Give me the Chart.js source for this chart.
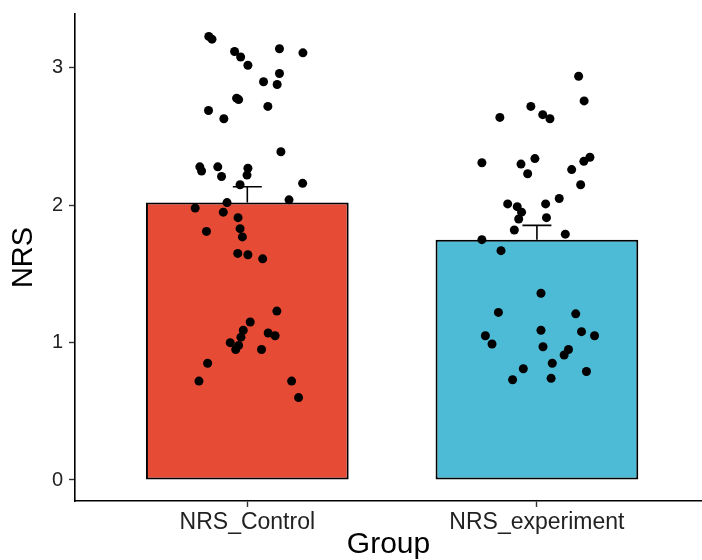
<!DOCTYPE html>
<html>
<head>
<meta charset="utf-8">
<script src="https://cdn.jsdelivr.net/npm/chart.js@4.4.1/dist/chart.umd.min.js"></script>
<style>
  html, body { margin: 0; padding: 0; background: #fff; overflow: hidden; }
  #wrap { width: 702px; height: 560px; }
</style>
</head>
<body>
<div id="wrap"><canvas id="myChart" width="702" height="560"></canvas></div>
<script>
// groups on the x axis, bar heights (means) and standard errors
const groups = ["NRS_Control", "NRS_experiment"];
const groupMeans = [2.02, 1.75];
const groupSE = [0.115, 0.104];
const yTicks = [0, 1, 2, 3];

// individual observations: horizontal jitter (in category units) and NRS value
const controlJitter = [-0.133, -0.122, -0.044, -0.023, 0.002, 0.111, 0.192, 0.111, 0.056, 0.103,
  -0.037, -0.030, -0.134, -0.081, 0.071, 0.116, -0.164, -0.158, -0.102, -0.089,
  0.002, -0.001, -0.025, 0.191, 0.144, -0.070, -0.180, -0.083, -0.032, -0.141,
  -0.025, -0.017, -0.033, 0.002, 0.053, 0.102, 0.010, -0.014, -0.022, 0.072,
  0.096, -0.059, -0.030, -0.040, 0.049, -0.137, -0.167, 0.153, 0.177];
const controlNRS = [3.23, 3.21, 3.12, 3.08, 3.02, 3.14, 3.11, 2.96, 2.90, 2.88,
  2.78, 2.77, 2.69, 2.63, 2.72, 2.39, 2.28, 2.25, 2.28, 2.21,
  2.27, 2.22, 2.15, 2.16, 2.04, 2.02, 1.98, 1.95, 1.91, 1.81,
  1.83, 1.77, 1.65, 1.64, 1.61, 1.23, 1.15, 1.09, 1.04, 1.07,
  1.05, 1.00, 0.98, 0.95, 0.95, 0.85, 0.72, 0.72, 0.60];
const experimentJitter = [0.144, 0.163, -0.021, -0.128, 0.020, 0.045, -0.190, -0.055, -0.007, -0.032,
  0.120, 0.162, 0.183, 0.151, -0.101, -0.068, -0.053, -0.063, 0.030, 0.077,
  0.033, -0.078, 0.098, -0.190, -0.124, 0.014, -0.133, 0.134, 0.014, 0.154,
  -0.178, 0.199, -0.155, 0.021, 0.109, 0.094, 0.053, -0.047, 0.171, -0.084, 0.049];
const experimentNRS = [2.94, 2.76, 2.72, 2.64, 2.66, 2.63, 2.31, 2.30, 2.34, 2.23,
  2.26, 2.32, 2.35, 2.15, 2.01, 1.99, 1.95, 1.90, 2.01, 2.05,
  1.91, 1.82, 1.79, 1.75, 1.67, 1.36, 1.22, 1.21, 1.09, 1.08,
  1.05, 1.05, 0.99, 0.97, 0.95, 0.91, 0.85, 0.81, 0.79, 0.73, 0.74];

const barColors = ["#E64B35", "#4DBBD5"];
const capWidth = 0.1;
const FONT = "'Liberation Sans', Arial, sans-serif";

const points = controlNRS.map((v, i) => ({ x: 1 + controlJitter[i], y: v }))
  .concat(experimentNRS.map((v, i) => ({ x: 2 + experimentJitter[i], y: v })));

// error bars (upper half only), drawn right after the bars
const errorBarPlugin = {
  id: 'errorBars',
  afterDatasetDraw(chart, args) {
    if (args.index !== 0) return;
    const { ctx, scales: { x, y } } = chart;
    ctx.save();
    ctx.strokeStyle = '#000';
    ctx.lineWidth = 1.6;
    groupMeans.forEach((m, i) => {
      const cx = x.getPixelForValue(i + 1);
      const half = x.getPixelForValue(i + 1 + capWidth / 2) - cx;
      const yBase = y.getPixelForValue(m);
      const yTop = y.getPixelForValue(m + groupSE[i]);
      ctx.beginPath();
      ctx.moveTo(cx, yBase);
      ctx.lineTo(cx, yTop);
      ctx.moveTo(cx - half, yTop);
      ctx.lineTo(cx + half, yTop);
      ctx.stroke();
    });
    ctx.restore();
  }
};

new Chart("myChart", {
  type: "bar",
  data: {
    datasets: [
      {
        type: "bar",
        data: groupMeans.map((m, i) => ({ x: i + 1, y: m })),
        backgroundColor: barColors,
        borderColor: "#000",
        borderWidth: 2,
        borderSkipped: false,
        barPercentage: 0.7,
        categoryPercentage: 1,
        order: 1
      },
      {
        type: "scatter",
        data: points,
        backgroundColor: "#000",
        borderWidth: 0,
        pointRadius: 4.5,
        order: 0
      }
    ]
  },
  options: {
    responsive: false,
    animation: false,
    layout: { autoPadding: false, padding: { top: 14, left: 0, right: 0, bottom: 0 } },
    plugins: {
      legend: { display: false },
      tooltip: { enabled: false }
    },
    scales: {
      x: {
        type: "linear",
        min: 0.405,
        max: 2.57,
        offset: false,
        grid: { offset: false, drawOnChartArea: false, drawTicks: true, tickLength: 6, tickWidth: 1.4, color: "#333" },
        border: { display: true, color: "#000", width: 1.6 },
        afterBuildTicks: (s) => { s.ticks = [1, 2].map(v => ({ value: v })); },
        afterFit: (s) => { s.height = 59; s.paddingLeft = 0; s.paddingRight = 0; },
        ticks: {
          callback: (v) => groups[v - 1],
          color: "#222",
          padding: 2,
          maxRotation: 0,
          font: { family: FONT, size: 23 }
        },
        title: {
          display: true,
          text: "Group",
          color: "#000",
          padding: { top: 0, bottom: -3 },
          font: { family: FONT, size: 30 }
        }
      },
      y: {
        min: -0.153,
        max: 3.393,
        grid: { drawOnChartArea: false, drawTicks: true, tickLength: 6, tickWidth: 1.4, color: "#333" },
        border: { display: true, color: "#000", width: 1.6 },
        afterBuildTicks: (s) => { s.ticks = yTicks.map(v => ({ value: v })); },
        afterFit: (s) => { s.width = 75; s.paddingTop = 0; s.paddingBottom = 0; },
        ticks: {
          color: "#222",
          padding: 6,
          font: { family: FONT, size: 20 }
        },
        title: {
          display: true,
          text: "NRS",
          color: "#000",
          padding: { top: 7, bottom: 0 },
          font: { family: FONT, size: 29 }
        }
      }
    }
  },
  plugins: [errorBarPlugin]
});
</script>
</body>
</html>
